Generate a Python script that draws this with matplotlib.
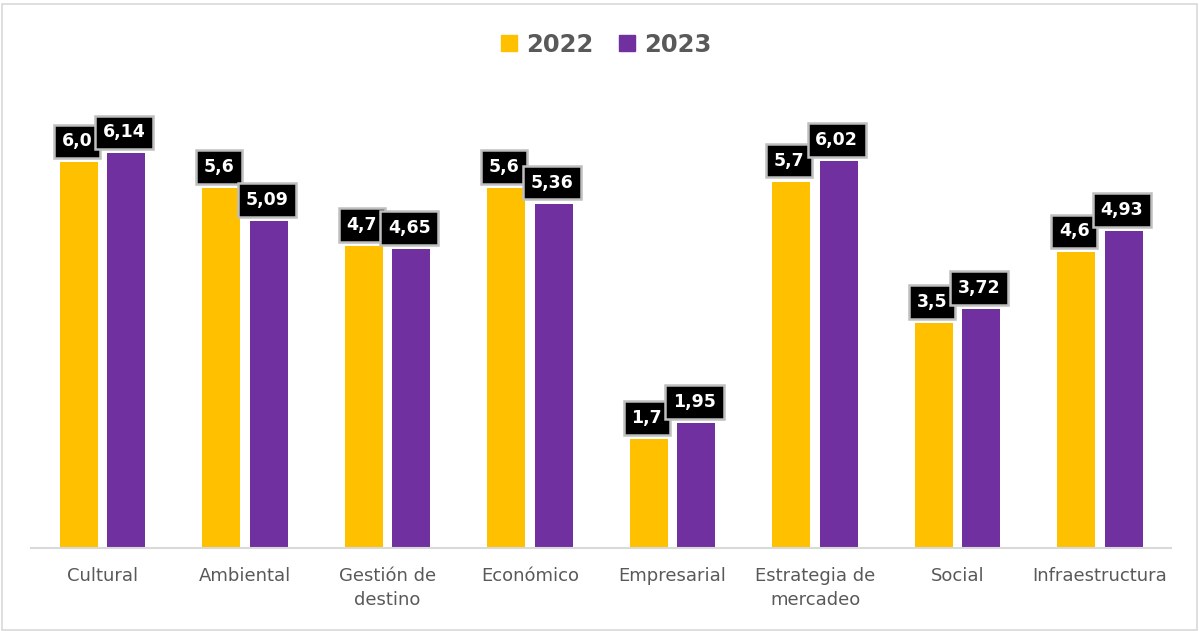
import matplotlib.pyplot as plt
import numpy as np
from matplotlib.patches import Rectangle
from matplotlib.lines import Line2D

categories = ["Cultural", "Ambiental", "Gestión de\ndestino", "Económico", "Empresarial",
              "Estrategia de\nmercadeo", "Social", "Infraestructura"]
vals_2022 = [6.0, 5.6, 4.7, 5.6, 1.7, 5.7, 3.5, 4.6]
vals_2023 = [6.14, 5.09, 4.65, 5.36, 1.95, 6.02, 3.72, 4.93]
labels_2022 = ["6,0", "5,6", "4,7", "5,6", "1,7", "5,7", "3,5", "4,6"]
labels_2023 = ["6,14", "5,09", "4,65", "5,36", "1,95", "6,02", "3,72", "4,93"]

YELLOW = "#FFC000"
PURPLE = "#7030A0"
TEXT = "#595959"

plt.rcParams["font.family"] = ["DejaVu Sans"]

fig = plt.figure(figsize=(11.99, 6.31), dpi=100)
ax = fig.add_axes([0.0261, 0.1315, 0.9508, 0.713])

x = np.arange(len(categories))
w = 0.267
off = 0.1667
b1 = ax.bar(x - off, vals_2022, w, color=YELLOW)
b2 = ax.bar(x + off, vals_2023, w, color=PURPLE)

# value tags: black box, grey rim, white bold figures
box = dict(boxstyle="square,pad=0.45", fc="black", ec="#BFBFBF", lw=1.8)
for bars, labs in ((b1, labels_2022), (b2, labels_2023)):
    for bar, lab in zip(bars, labs):
        ax.annotate(lab, (bar.get_x() + bar.get_width() / 2, bar.get_height()),
                    xytext=(-2, 12), textcoords="offset pixels",
                    ha="center", va="bottom", color="white",
                    fontsize=12.5, fontweight="bold", bbox=box)

ax.set_xlim(-0.5, len(categories) - 0.5)
ax.set_ylim(0, 7)
ax.set_xticks(x)
ax.set_xticklabels(categories, fontsize=13, color=TEXT, linespacing=1.4)
ax.tick_params(axis="x", length=0, pad=14)
ax.set_yticks([])
for s in ("top", "right", "left"):
    ax.spines[s].set_visible(False)
ax.spines["bottom"].set_color("#D9D9D9")
ax.spines["bottom"].set_linewidth(1.5)

handles = [Line2D([], [], marker="s", ls="", ms=11, color=YELLOW),
           Line2D([], [], marker="s", ls="", ms=11, color=PURPLE)]
fig.legend(handles, ["2022", "2023"], loc="center", bbox_to_anchor=(0.505, 0.929),
           ncol=2, frameon=False, handlelength=0.8, handletextpad=0.3, columnspacing=1.0,
           prop={"size": 17.5, "weight": "bold"}, labelcolor=TEXT)

fig.patches.append(Rectangle((0.002, 0.001), 0.996, 0.993, transform=fig.transFigure,
                             fill=False, ec="#D9D9D9", lw=1.2))

fig.savefig("out.png", dpi=100)
